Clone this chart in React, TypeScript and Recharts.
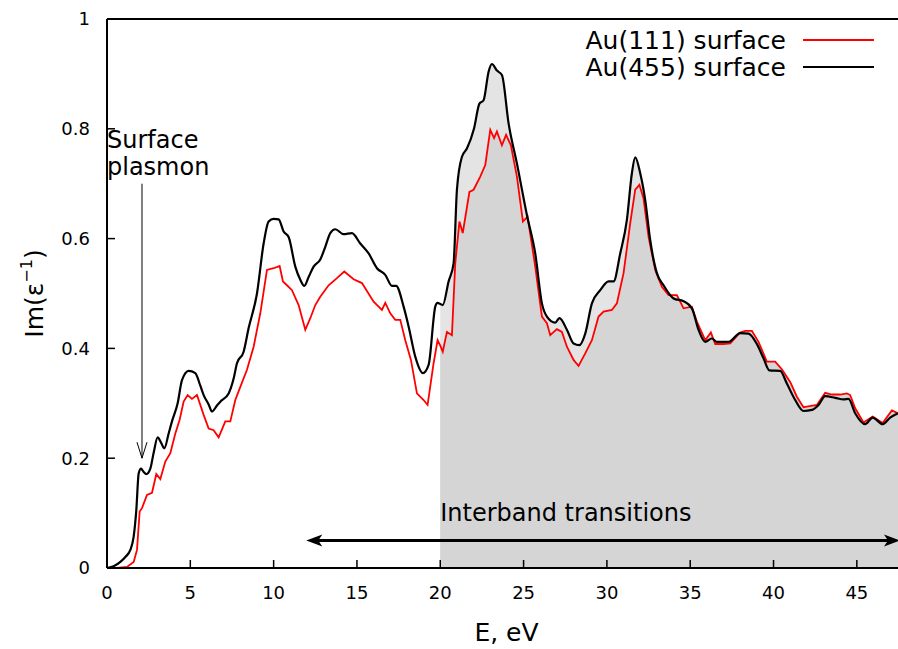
import { Area, ComposedChart, Line, ReferenceDot, ReferenceLine, XAxis, YAxis } from "recharts";

// photon energy (eV) and Im(1/eps)
const au455Energy = [
  0, 0.4, 0.8, 1.1, 1.4, 1.6, 1.76, 1.9, 2.04, 2.2, 2.36, 2.6, 2.8, 3.04, 3.25, 3.44, 3.7, 3.9, 4.24, 4.5,
  4.9, 5.3, 5.6, 5.8, 6.1, 6.3, 6.6, 6.8, 7.3, 7.6, 7.8, 8.2, 8.5, 9.0, 9.4, 9.7, 10.0, 10.3, 10.6, 10.9,
  11.3, 11.6, 11.84, 12.1, 12.4, 12.8, 13.1, 13.4, 13.7, 14.2, 14.7, 15.2, 15.7, 16.2, 16.7, 17.1, 17.35,
  17.8, 18.1, 18.5, 18.96, 19.3, 19.7, 19.83, 20.0, 20.15, 20.5, 20.8, 21.0, 21.3, 21.6, 22.03, 22.35,
  22.6, 22.9, 23.1, 23.4, 23.7, 24.1, 24.6, 25.2, 25.7, 26.1, 26.4, 26.9, 27.15, 27.6, 28.0, 28.35, 28.7,
  29.1, 29.6, 30.1, 30.4, 30.8, 31.2, 31.5, 31.7, 32.0, 32.3, 32.6, 33.0, 33.4, 34.0, 34.6, 35.1, 35.5,
  35.9, 36.3, 36.6, 37.3, 38.0, 38.5, 39.0, 39.4, 39.75, 40.4, 40.8, 41.3, 41.8, 42.3, 42.7, 43.1, 43.7,
  44.2, 44.5, 44.9, 45.5, 45.95, 46.55, 47.0, 47.47,
];
const au455Loss = [
  0, 0.003, 0.011, 0.02, 0.033, 0.057, 0.106, 0.172, 0.181, 0.175, 0.171, 0.181, 0.21, 0.238, 0.228, 0.218,
  0.245, 0.267, 0.3, 0.342, 0.359, 0.355, 0.332, 0.315, 0.298, 0.285, 0.296, 0.303, 0.318, 0.345, 0.373,
  0.394, 0.437, 0.5, 0.591, 0.631, 0.636, 0.635, 0.613, 0.603, 0.549, 0.525, 0.514, 0.53, 0.549, 0.562,
  0.585, 0.61, 0.617, 0.608, 0.61, 0.591, 0.573, 0.546, 0.534, 0.514, 0.514, 0.476, 0.44, 0.385, 0.355,
  0.37, 0.476, 0.483, 0.481, 0.479, 0.522, 0.555, 0.689, 0.749, 0.764, 0.801, 0.846, 0.852, 0.904, 0.918,
  0.906, 0.898, 0.81, 0.737, 0.643, 0.573, 0.482, 0.458, 0.447, 0.455, 0.434, 0.409, 0.406, 0.427, 0.482,
  0.506, 0.522, 0.522, 0.573, 0.634, 0.719, 0.748, 0.719, 0.67, 0.597, 0.537, 0.515, 0.491, 0.486, 0.473,
  0.434, 0.412, 0.418, 0.412, 0.412, 0.428, 0.427, 0.408, 0.382, 0.36, 0.359, 0.336, 0.306, 0.286, 0.288,
  0.297, 0.313, 0.31, 0.307, 0.308, 0.282, 0.262, 0.274, 0.262, 0.274, 0.282,
];

const au111Energy = [
  0, 0.6, 1.2, 1.6, 1.8, 1.96, 2.1, 2.4, 2.7, 2.96, 3.2, 3.5, 3.8, 4.1, 4.36, 4.6, 4.84, 5.1, 5.4, 5.8, 6.1,
  6.4, 6.7, 7.1, 7.4, 7.7, 8.0, 8.4, 8.8, 9.2, 9.6, 10.0, 10.36, 10.56, 10.8, 11.1, 11.5, 11.9, 12.2, 12.5,
  12.8, 13.3, 13.8, 14.24, 14.8, 15.3, 16.0, 16.5, 16.7, 17.0, 17.3, 17.6, 17.9, 18.24, 18.6, 19.0, 19.24,
  19.6, 19.84, 20.0, 20.15, 20.4, 20.7, 20.9, 21.15, 21.35, 21.75, 22.0, 22.4, 22.7, 23.0, 23.23, 23.4,
  23.7, 23.95, 24.24, 24.6, 24.96, 25.24, 25.7, 26.1, 26.4, 26.6, 27.0, 27.3, 27.6, 28.0, 28.3, 28.7, 29.1,
  29.5, 29.8, 30.3, 30.6, 31.0, 31.4, 31.7, 31.95, 32.2, 32.5, 32.9, 33.3, 33.7, 34.2, 34.6, 35.1, 35.4,
  35.9, 36.24, 36.5, 37.0, 37.4, 38.0, 38.3, 38.7, 39.1, 39.6, 40.1, 40.5, 41.0, 41.4, 41.8, 42.0, 42.6,
  43.1, 43.5, 44.0, 44.4, 44.6, 44.9, 45.4, 45.95, 46.55, 47.1, 47.47,
];
const au111Loss = [
  0, 0, 0.002, 0.011, 0.033, 0.103, 0.109, 0.133, 0.137, 0.171, 0.162, 0.194, 0.209, 0.245, 0.27, 0.303,
  0.315, 0.308, 0.315, 0.279, 0.254, 0.251, 0.238, 0.267, 0.267, 0.306, 0.33, 0.361, 0.403, 0.464, 0.543,
  0.546, 0.55, 0.522, 0.515, 0.506, 0.479, 0.434, 0.455, 0.479, 0.494, 0.515, 0.528, 0.54, 0.526, 0.519,
  0.485, 0.47, 0.483, 0.464, 0.452, 0.452, 0.415, 0.379, 0.318, 0.306, 0.297, 0.373, 0.415, 0.405, 0.394,
  0.43, 0.424, 0.555, 0.631, 0.61, 0.685, 0.689, 0.713, 0.734, 0.798, 0.783, 0.795, 0.77, 0.789, 0.77,
  0.713, 0.631, 0.64, 0.549, 0.458, 0.446, 0.424, 0.435, 0.43, 0.403, 0.379, 0.368, 0.391, 0.415, 0.458,
  0.467, 0.47, 0.482, 0.537, 0.628, 0.689, 0.698, 0.673, 0.603, 0.543, 0.512, 0.497, 0.497, 0.473, 0.476,
  0.449, 0.415, 0.429, 0.408, 0.408, 0.409, 0.429, 0.432, 0.432, 0.412, 0.376, 0.376, 0.362, 0.339, 0.312,
  0.293, 0.294, 0.297, 0.319, 0.316, 0.316, 0.318, 0.315, 0.291, 0.265, 0.276, 0.264, 0.287, 0.282,
];

const xTicks = [0, 5, 10, 15, 20, 25, 30, 35, 40, 45];
const yTicks = [0, 0.2, 0.4, 0.6, 0.8, 1];
const xMax = 47.47;
const seriesNames = ["Au(111) surface", "Au(455) surface"];
const seriesColors = ["#ff0000", "#000000"];
const interbandStart = 20;
const interbandArrow = [11.96, xMax];
const plasmonArrow = { e: 2.1, from: 0.7, to: 0.2 };

const font = "DejaVu Sans";
const W = 898;
const H = 649;

const toPoints = (es: number[], vs: number[]) => es.map((e, i) => ({ e, v: vs[i] }));
const au455 = toPoints(au455Energy, au455Loss);
const au111 = toPoints(au111Energy, au111Loss);
const au455Band = au455.filter((p) => p.e >= interbandStart);
const au111Band = au111.filter((p) => p.e >= interbandStart);

const DoubleArrow = (p: any) => {
  const { x1, x2, y1 } = p;
  const h = 16;
  const w = 6;
  return (
    <g>
      <line x1={x1 + 8} x2={x2 - 8} y1={y1} y2={y1} stroke="#000" strokeWidth={3} />
      <path d={`M${x1},${y1} L${x1 + h},${y1 - w} L${x1 + h - 4},${y1} L${x1 + h},${y1 + w} Z`} fill="#000" />
      <path d={`M${x2 + 2},${y1} L${x2 - h + 2},${y1 - w} L${x2 - h + 6},${y1} L${x2 - h + 2},${y1 + w} Z`} fill="#000" />
    </g>
  );
};

const DownArrow = (p: any) => {
  const { x1, y1, y2 } = p;
  const top = Math.min(y1, y2);
  const tip = Math.max(y1, y2);
  return (
    <g stroke="#000" strokeWidth={1} fill="none">
      <line x1={x1} x2={x1} y1={top} y2={tip} />
      <path d={`M${x1 - 5},${tip - 16} L${x1},${tip} L${x1 + 5},${tip - 16}`} />
    </g>
  );
};

const SurfaceText = (p: any) => (
  <g>
    <text x={p.cx} y={p.cy} fontFamily={font} fontSize={24} fill="#000">Surface</text>
    <text x={p.cx} y={p.cy + 27} fontFamily={font} fontSize={24} fill="#000">plasmon</text>
  </g>
);

const InterbandText = (p: any) => (
  <text x={p.cx} y={p.cy} fontFamily={font} fontSize={24} fill="#000">
    Interband transitions
  </text>
);

const XTitle = (p: any) => {
  const vb = p.viewBox;
  return (
    <text x={vb.x + vb.width / 2 + 4} y={641} textAnchor="middle" fontFamily={font} fontSize={25} fill="#000">
      E, eV
    </text>
  );
};

const YTitle = (p: any) => {
  const vb = p.viewBox;
  const cy = vb.y + vb.height / 2;
  return (
    <text x={43} y={cy} transform={`rotate(-90, 43, ${cy})`} textAnchor="middle" fontFamily={font} fontSize={25} fill="#000">
      Im(ε<tspan dy={-11} fontSize={16}>−1</tspan>
      <tspan dy={11}>)</tspan>
    </text>
  );
};

export default function App() {
  const tickStyle = { fill: "#000", fontSize: 18, fontFamily: font };
  return (
    <div style={{ position: "absolute", left: 0, top: 0, width: W, height: H, background: "#fff", overflow: "hidden" }}>
      <ComposedChart width={W} height={H} margin={{ top: 19, right: 0, bottom: 0, left: 0 }}>
        <XAxis
          type="number"
          dataKey="e"
          domain={[0, xMax]}
          ticks={xTicks}
          allowDataOverflow
          height={81}
          padding={{ left: 0, right: 0 }}
          tickSize={-8}
          tickMargin={26}
          axisLine={{ stroke: "#000", strokeWidth: 2 }}
          tickLine={{ stroke: "#000", strokeWidth: 1.5 }}
          tick={tickStyle}
          label={XTitle}
        />
        <YAxis
          type="number"
          domain={[0, 1]}
          ticks={yTicks}
          allowDataOverflow
          width={107}
          tickSize={-8}
          tickMargin={25}
          axisLine={{ stroke: "#000", strokeWidth: 2 }}
          tickLine={{ stroke: "#000", strokeWidth: 1.5 }}
          tick={tickStyle}
          label={YTitle}
        />
        <ReferenceLine y={1} stroke="#000" strokeWidth={2} />
        <Area data={au455Band} dataKey="v" type="linear" stroke="none" fill="#e4e4e4" fillOpacity={1} isAnimationActive={false} legendType="none" />
        <Area data={au111Band} dataKey="v" type="linear" stroke="none" fill="#d5d5d5" fillOpacity={1} isAnimationActive={false} legendType="none" />
        <Line data={au111} dataKey="v" name={seriesNames[0]} type="linear" stroke={seriesColors[0]} strokeWidth={1.8} dot={false} isAnimationActive={false} />
        <Line data={au455} dataKey="v" name={seriesNames[1]} type="monotone" stroke={seriesColors[1]} strokeWidth={2.2} dot={false} isAnimationActive={false} />
        <ReferenceLine
          segment={[
            { x: interbandArrow[0], y: 0.05 },
            { x: interbandArrow[1], y: 0.05 },
          ]}
          shape={DoubleArrow}
        />
        <ReferenceLine
          segment={[
            { x: plasmonArrow.e, y: plasmonArrow.from },
            { x: plasmonArrow.e, y: plasmonArrow.to },
          ]}
          shape={DownArrow}
        />
        <ReferenceDot x={0} y={0.765} r={0} shape={SurfaceText} />
        <ReferenceDot x={interbandStart} y={0.085} r={0} shape={InterbandText} />
      </ComposedChart>
      <svg width={320} height={90} style={{ position: "absolute", left: 580, top: 0 }}>
        {seriesNames.map((name, i) => (
          <g key={name}>
            <text x={206} y={49 + 27 * i} textAnchor="end" fontFamily={font} fontSize={25} fill="#000">
              {name}
            </text>
            <line x1={223} x2={294} y1={40 + 27 * i} y2={40 + 27 * i} stroke={seriesColors[i]} strokeWidth={2} />
          </g>
        ))}
      </svg>
    </div>
  );
}
